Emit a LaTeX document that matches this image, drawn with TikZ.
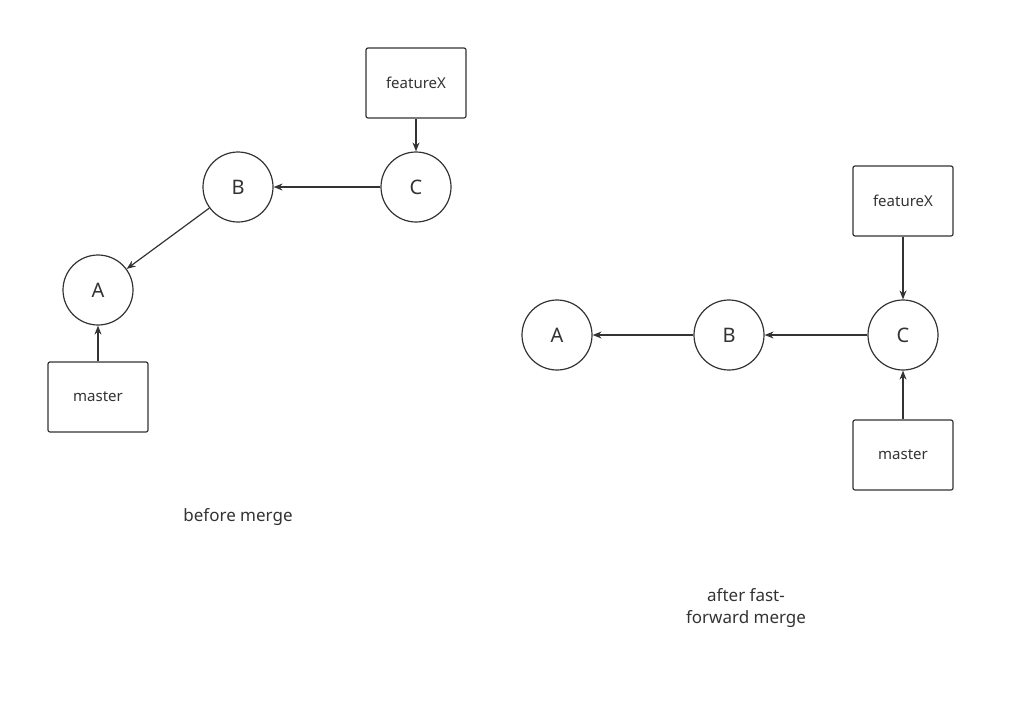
\documentclass[tikz,border=0pt]{standalone}
\usepackage{fontspec}
\setmainfont{Noto Sans}
\usetikzlibrary{arrows.meta}
\definecolor{ln}{HTML}{333333}
\begin{document}
\begin{tikzpicture}[x=1pt,y=-1pt,
  cir/.style={circle,draw=ln,line width=1.2pt,minimum size=70pt,inner sep=0pt,font=\fontsize{20}{24}\selectfont,text=ln},
  box/.style={rectangle,rounded corners=2pt,draw=ln,line width=1.2pt,minimum width=100pt,minimum height=70pt,inner sep=0pt,font=\fontsize{15}{18}\selectfont,text=ln},
  lab/.style={font=\fontsize{17}{22}\selectfont,text=ln,align=center},
  arr/.style={draw=ln,line width=1.2pt,-{Stealth[length=9pt,width=7pt]}}]
\useasboundingbox (0,0) rectangle (1014,705);
\node[cir] (A1) at (98,290) {A};
\node[cir] (B1) at (238,187) {B};
\node[cir] (C1) at (416,187) {C};
\node[box] (F1) at (416,83) {featureX};
\node[box] (M1) at (98,397) {master};
\draw[arr] (C1) -- (B1);
\draw[arr] (B1) -- (A1);
\draw[arr] (F1) -- (C1);
\draw[arr] (M1) -- (A1);
\node[lab] (L1) at (238,517) {before merge};
\node[cir] (A2) at (557,335) {A};
\node[cir] (B2) at (729,335) {B};
\node[cir] (C2) at (903,335) {C};
\node[box] (F2) at (903,201) {featureX};
\node[box] (M2) at (903,455) {master};
\draw[arr] (C2) -- (B2);
\draw[arr] (B2) -- (A2);
\draw[arr] (F2) -- (C2);
\draw[arr] (M2) -- (C2);
\node[lab] (L2) at (746,608) {after fast-\\forward merge};
\end{tikzpicture}
\end{document}
